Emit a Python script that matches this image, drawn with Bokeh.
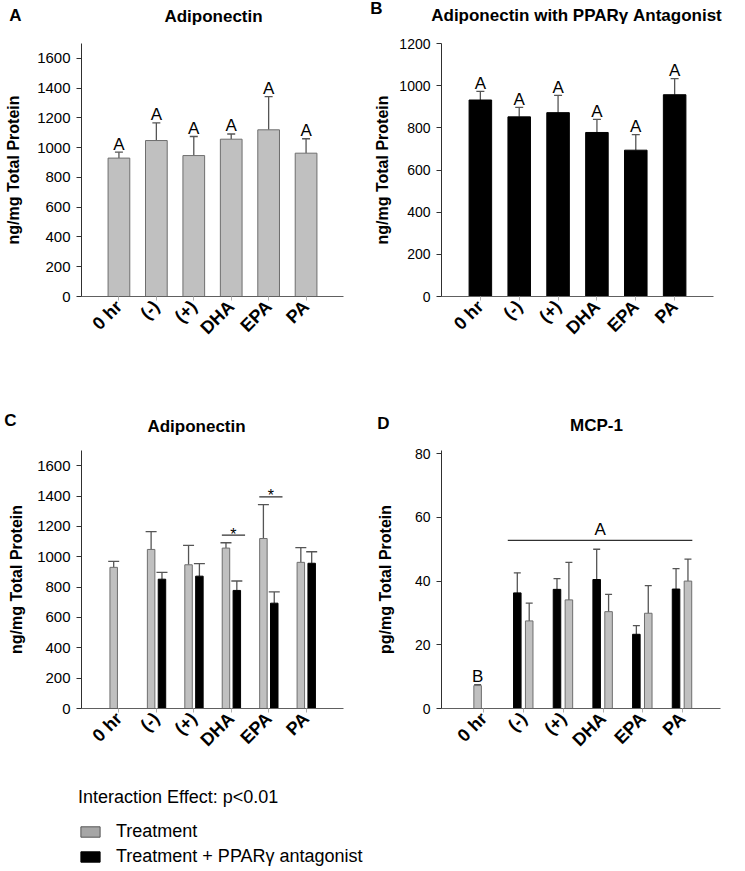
import math
from bokeh.plotting import figure
from bokeh.models import (Range1d, FixedTicker, ColumnDataSource, Whisker, TeeHead,
                          Legend, LegendItem)
from bokeh.layouts import column, row
from bokeh.transform import dodge
from bokeh.core.properties import value
from bokeh.embed import file_html
from bokeh.resources import INLINE

NaN = float("nan")
FONT = "Liberation Sans"

categories = ["0 hr", "(-)", "(+)", "DHA", "EPA", "PA"]

# Panel A - Adiponectin (treatment): mean and top of error bar
adipo_treat = [930, 1048, 947, 1057, 1120, 963]
adipo_treat_upper = [970, 1166, 1075, 1092, 1343, 1060]
adipo_treat_letters = ["A", "A", "A", "A", "A", "A"]

# Panel B - Adiponectin with PPARgamma antagonist
adipo_antag = [932, 852, 872, 778, 694, 957]
adipo_antag_upper = [973, 897, 954, 840, 768, 1033]
adipo_antag_letters = ["A", "A", "A", "A", "A", "A"]

# Panel C - both series (0 hr has only the treatment bar)
c_treat = [930, 1048, 947, 1057, 1120, 963]
c_treat_upper = [970, 1166, 1075, 1092, 1343, 1060]
c_antag = [NaN, 852, 872, 778, 694, 957]
c_antag_upper = [NaN, 897, 954, 840, 768, 1033]
c_sig_groups = ["DHA", "EPA"]
c_sig_heights = [1143, 1395]
c_sig_marks = ["*", "*"]

# Panel D - MCP-1
mcp_treat = [7.2, 27.5, 34.1, 30.4, 29.9, 40.0]
mcp_treat_upper = [7.5, 33.1, 45.9, 35.8, 38.6, 46.9]
mcp_antag = [NaN, 36.3, 37.4, 40.5, 23.3, 37.5]
mcp_antag_upper = [NaN, 42.6, 40.8, 50.0, 26.0, 43.9]
mcp_letter_single = "B"          # over 0 hr
mcp_group_letter = "A"           # over (-) ... PA
mcp_group_first, mcp_group_last = "(-)", "PA"
mcp_group_height = 52.8

yticks_adipo = [0, 200, 400, 600, 800, 1000, 1200, 1400, 1600]
yticks_antag = [0, 200, 400, 600, 800, 1000, 1200]
yticks_mcp = [0, 20, 40, 60, 80]

panel_letters = ["A", "B", "C", "D"]
panel_titles = ["Adiponectin", "Adiponectin with PPAR\u03b3 Antagonist", "Adiponectin", "MCP-1"]
y_label_adipo = "ng/mg Total Protein"
y_label_mcp = "pg/mg Total Protein"
legend_title = "Interaction Effect: p<0.01"
legend_labels = ["Treatment", "Treatment + PPAR\u03b3 antagonist"]

GRAY = "#c0c0c0"
GRAY_EDGE = "#6e6e6e"
BLACK = "#000000"
ERR = "#555555"

xs = [i + 1 for i in range(len(categories))]


def base_fig(w, h, lb, rb, tb, bb, xr, ytop, yticks, ylabel, tick_size, lab_standoff):
    p = figure(width=w, height=h, x_range=Range1d(*xr), y_range=Range1d(0, ytop),
               output_backend="svg", toolbar_location=None,
               min_border_left=lb, min_border_right=rb,
               min_border_top=tb, min_border_bottom=bb)
    p.xgrid.visible = False
    p.ygrid.visible = False
    p.outline_line_color = None
    xa = p.xaxis[0]
    ya = p.yaxis[0]
    xa.ticker = FixedTicker(ticks=xs)
    xa.major_label_overrides = {x: c for x, c in zip(xs, categories)}
    xa.major_label_orientation = math.pi / 4
    xa.major_label_text_font = FONT
    xa.major_label_text_font_size = "18px"
    xa.major_label_text_font_style = "bold"
    xa.major_label_text_color = "black"
    xa.major_label_standoff = 3
    xa.axis_line_color = "#606060"
    xa.major_tick_line_color = "#b0b0b0"
    xa.major_tick_out = 4
    xa.major_tick_in = 0
    xa.minor_tick_line_color = None
    ya.ticker = FixedTicker(ticks=yticks)
    ya.axis_label = ylabel
    ya.axis_label_text_font = FONT
    ya.axis_label_text_font_size = "16px"
    ya.axis_label_text_font_style = "bold"
    ya.axis_label_text_color = "black"
    ya.axis_label_standoff = lab_standoff
    ya.major_label_text_font = FONT
    ya.major_label_text_font_size = tick_size
    ya.major_label_text_color = "black"
    ya.major_label_standoff = 6
    ya.major_tick_out = 5
    ya.major_tick_in = 0
    ya.minor_tick_line_color = None
    ya.axis_line_color = "#303030"
    ya.major_tick_line_color = "#303030"
    return p


def header_fig(w, h, letters, letter_xy, titles, title_xy):
    p = figure(width=w, height=h, x_range=Range1d(0, w), y_range=Range1d(h, 0),
               output_backend="svg", toolbar_location=None,
               x_axis_location=None, y_axis_location=None,
               min_border_left=0, min_border_right=0, min_border_top=0, min_border_bottom=0)
    p.xgrid.visible = False
    p.ygrid.visible = False
    p.outline_line_color = None
    src = ColumnDataSource(dict(x=[xy[0] for xy in letter_xy] + [xy[0] for xy in title_xy],
                                y=[xy[1] for xy in letter_xy] + [xy[1] for xy in title_xy],
                                t=list(letters) + list(titles)))
    p.text(x="x", y="y", text="t", source=src, text_align="center", text_baseline="middle",
           text_font=value(FONT), text_font_size="17px", text_font_style="bold",
           text_color="black")
    return p


def add_bars(p, xvals, tops, uppers, offset, width, fill, edge, cap):
    keep = [i for i, t in enumerate(tops) if t == t]
    src = ColumnDataSource(dict(x=[xvals[i] for i in keep],
                                top=[tops[i] for i in keep],
                                upper=[uppers[i] for i in keep]))
    xfield = dodge("x", offset, range=p.x_range) if offset else "x"
    r = p.vbar(x=xfield, top="top", width=width, source=src,
               fill_color=fill, line_color=edge, line_width=1)
    p.add_layout(Whisker(base=xfield, lower="top", upper="upper", source=src,
                         line_color=ERR, line_width=1.3,
                         upper_head=TeeHead(size=cap, line_color=ERR, line_width=1.3),
                         lower_head=None))
    return r, src


def add_letters(p, src, letters, xoff=0.0, yoff=-8):
    src.data["letter"] = letters
    xfield = dodge("x", xoff, range=p.x_range) if xoff else "x"
    p.text(x=xfield, y="upper", text="letter", source=src, text_align="center",
           text_baseline="alphabetic", y_offset=yoff, text_font=value(FONT),
           text_font_size="17px", text_color="black")


# ---------------- header rows ----------------
hTop = header_fig(745, 34, panel_letters[:2], [(15, 15), (376, 8)],
                  panel_titles[:2], [(213, 16), (576, 15)])
hBot = header_fig(745, 38, panel_letters[2:], [(10, 20), (383, 23)],
                  panel_titles[2:], [(196, 26), (596, 25)])

# ---------------- Panel A ----------------
pA = base_fig(370, 366, 81, 27, 3, 104, (0, 7), 1700, yticks_adipo, y_label_adipo, "15px", 12)
_, srcA = add_bars(pA, xs, adipo_treat, adipo_treat_upper, 0, 0.58, GRAY, GRAY_EDGE, 8)
add_letters(pA, srcA, adipo_treat_letters)

# ---------------- Panel B ----------------
pB = base_fig(375, 366, 71, 32, 9, 98, (0, 7), 1200, yticks_antag, y_label_adipo, "14px", 5)
_, srcB = add_bars(pB, xs, adipo_antag, adipo_antag_upper, 0, 0.58, BLACK, BLACK, 8)
add_letters(pB, srcB, adipo_antag_letters)

# ---------------- Panel C ----------------
pC = base_fig(370, 332, 81, 27, 12, 60, (0, 7), 1700, yticks_adipo, y_label_adipo, "15px", 9)
add_bars(pC, xs, c_treat, c_treat_upper, -0.14, 0.2, GRAY, GRAY_EDGE, 11)
add_bars(pC, xs, c_antag, c_antag_upper, 0.15, 0.2, BLACK, BLACK, 11)
sig_x = [xs[categories.index(g)] for g in c_sig_groups]
sig_src = ColumnDataSource(dict(x=sig_x, y=c_sig_heights, mark=c_sig_marks))
pC.segment(x0=dodge("x", -0.25, range=pC.x_range), x1=dodge("x", 0.37, range=pC.x_range),
           y0="y", y1="y", source=sig_src, line_color="#303030", line_width=1.2)
pC.text(x=dodge("x", 0.06, range=pC.x_range), y="y", text="mark", source=sig_src,
        text_align="center", text_baseline="alphabetic", y_offset=-1,
        text_font=value(FONT), text_font_size="16px", text_color="black")

# ---------------- Panel D ----------------
pD = base_fig(375, 332, 71, 25, 5, 62, (-0.07, 6.96), 81, yticks_mcp, y_label_mcp, "14px", 18)
add_bars(pD, xs, mcp_antag, mcp_antag_upper, -0.16, 0.19, BLACK, BLACK, 7)
# the treatment bar takes the left slot where there is no antagonist bar
single_tops = [t if a != a else NaN for t, a in zip(mcp_treat, mcp_antag)]
pair_tops = [t if a == a else NaN for t, a in zip(mcp_treat, mcp_antag)]
_, srcD1 = add_bars(pD, xs, single_tops, mcp_treat_upper, -0.16, 0.19, GRAY, GRAY_EDGE, 7)
add_bars(pD, xs, pair_tops, mcp_treat_upper, 0.14, 0.19, GRAY, GRAY_EDGE, 7)
add_letters(pD, srcD1, [mcp_letter_single] * len(srcD1.data["x"]), xoff=-0.16, yoff=-8)
g0 = xs[categories.index(mcp_group_first)]
g1 = xs[categories.index(mcp_group_last)]
grp_src = ColumnDataSource(dict(x0=[g0], x1=[g1], y=[mcp_group_height],
                                xm=[(g0 + g1) / 2], t=[mcp_group_letter]))
pD.segment(x0=dodge("x0", -0.4, range=pD.x_range), x1=dodge("x1", 0.25, range=pD.x_range),
           y0="y", y1="y", source=grp_src, line_color="#303030", line_width=1.2)
pD.text(x=dodge("xm", -0.07, range=pD.x_range), y="y", text="t", source=grp_src,
        text_align="center", text_baseline="alphabetic", y_offset=-11,
        text_font=value(FONT), text_font_size="17px", text_color="black")

# ---------------- Legend ----------------
pL = figure(width=745, height=100, x_range=Range1d(20, 21), y_range=Range1d(5000, 5001),
            output_backend="svg", toolbar_location=None,
            x_axis_location=None, y_axis_location=None,
            min_border_left=0, min_border_right=0, min_border_top=0, min_border_bottom=0)
pL.xgrid.visible = False
pL.ygrid.visible = False
pL.outline_line_color = None
# legend proxies: the two series, kept outside the visible range
rg = pL.vbar(x=xs, top=c_treat, width=0.2, fill_color="#a6a6a6", line_color="#555555")
rb = pL.vbar(x=xs, top=adipo_antag, width=0.2, fill_color=BLACK, line_color=BLACK)
leg = Legend(items=[LegendItem(label=legend_labels[0], renderers=[rg]),
                    LegendItem(label=legend_labels[1], renderers=[rb])],
             location=(78, 3), title=legend_title,
             title_text_font=FONT, title_text_font_size="18px", title_text_font_style="normal",
             title_text_color="black", title_standoff=13,
             label_text_font=FONT, label_text_font_size="18px", label_text_color="black",
             glyph_width=24, glyph_height=13, label_standoff=14, spacing=4,
             padding=0, margin=0, border_line_color=None, background_fill_alpha=0)
pL.add_layout(leg)

layout = column(hTop, row(pA, pB), hBot, row(pC, pD), pL)
open("out.html", "w").write(file_html(layout, INLINE))
